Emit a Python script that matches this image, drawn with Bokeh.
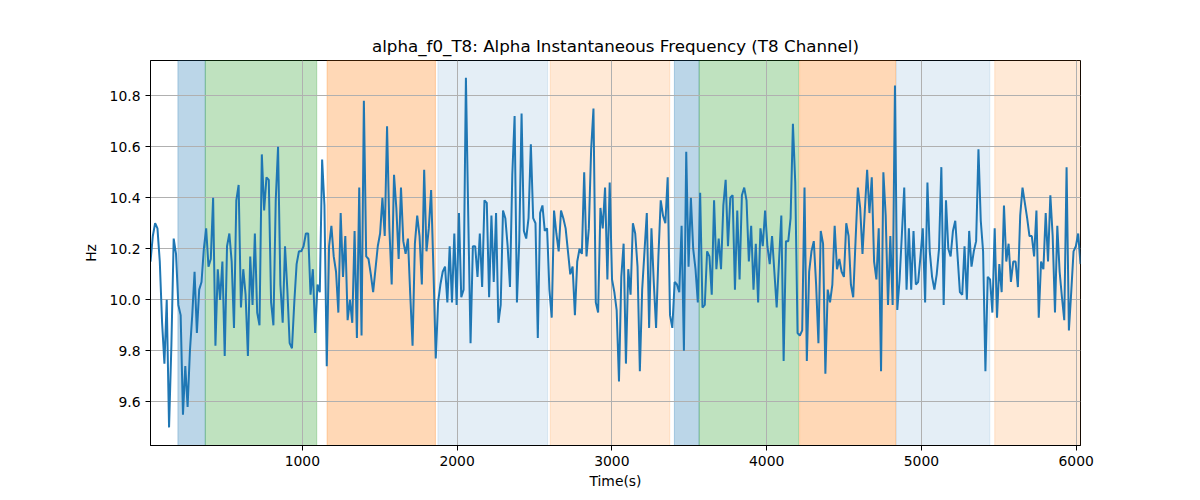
from bokeh.plotting import figure
from bokeh.models import BoxAnnotation, FixedTicker, PrintfTickFormatter, Range1d
from bokeh.embed import file_html
from bokeh.resources import INLINE

# alpha instantaneous frequency (Hz), one sample every ~15 s
alpha_f0 = [
    10.15, 10.25, 10.30, 10.28, 10.15, 9.91, 9.75, 10.00, 9.50, 9.82,
    10.24, 10.18, 9.98, 9.94, 9.55, 9.74, 9.58, 9.80, 9.94, 10.11,
    9.87, 10.04, 10.07, 10.20, 10.28, 10.13, 10.16, 10.40, 9.82, 10.12,
    10.00, 10.15, 9.78, 10.21, 10.26, 10.15, 9.89, 10.39, 10.45, 9.97,
    10.12, 10.02, 9.78, 10.17, 9.98, 10.26, 9.95, 9.90, 10.57, 10.35,
    10.48, 10.47, 9.99, 9.90, 10.39, 10.60, 10.06, 9.91, 10.21, 10.04,
    9.83, 9.81, 9.99, 10.14, 10.19, 10.19, 10.21, 10.26, 10.26,
    10.02, 10.12, 9.87, 10.06, 10.03, 10.55, 10.37, 9.74, 10.21, 10.29,
    10.17, 10.11, 9.95, 10.34, 10.09, 10.25, 9.92, 10.00, 9.91, 10.27,
    9.85, 10.44, 9.86, 10.78, 10.17, 10.16, 10.10, 10.03, 10.12, 10.21,
    10.26, 10.40, 10.25, 10.68, 10.28, 10.06, 10.49, 10.36, 10.16, 10.44,
    10.23, 10.18, 10.24, 10.02, 9.82, 10.22, 10.33, 10.25, 10.06, 10.51,
    10.19, 10.28, 10.43, 10.12, 9.77, 9.99, 10.06, 10.11, 10.13, 9.99,
    10.21, 9.99, 10.26, 9.98, 10.34, 10.01, 10.04, 10.87,
    10.33, 9.83, 10.21, 10.21, 10.09, 10.26, 10.05, 10.39, 10.38, 10.01,
    10.33, 10.07, 10.34, 9.91, 9.98, 10.35, 10.32, 10.21, 10.05, 10.49,
    10.72, 9.99, 10.23, 10.73, 10.27, 10.24, 10.32, 10.61, 10.32, 10.30,
    9.85, 10.34, 10.37, 10.27, 10.28, 10.04, 9.93, 10.35, 10.26, 10.19,
    10.35, 10.32, 10.28, 10.19, 10.10, 10.13, 9.94, 10.15, 10.20, 10.18,
    10.50, 10.17, 10.28, 10.59, 10.75, 9.99, 9.95, 10.36, 10.28, 10.44,
    10.08, 10.46, 10.08, 10.03, 9.96, 9.68, 10.09, 10.22, 9.75, 10.12,
    10.02, 10.30, 10.26, 10.13, 9.72, 10.04, 10.19, 10.34, 9.89, 10.28,
    10.07, 9.89, 10.17, 10.39, 10.33, 10.30, 10.48, 9.94, 9.89, 10.07,
    10.06, 10.03, 10.29, 9.80, 10.58, 10.13, 10.40, 10.20, 10.12, 9.99,
    10.42, 9.97, 9.98, 10.19, 10.17, 10.02, 10.39, 10.12, 10.24, 10.12,
    10.37, 10.47, 10.21, 10.40, 10.41, 10.04, 10.35, 10.08, 10.41, 10.44,
    10.39, 10.15, 10.29, 10.04, 10.22, 9.99, 10.28, 10.21, 10.35, 10.21,
    10.14, 10.25, 10.11, 9.97, 10.15, 10.33, 9.76, 10.23, 10.23,
    10.32, 10.69, 10.46, 9.87, 9.86, 9.88, 10.44, 9.76, 10.11, 10.19,
    10.23, 10.06, 9.83, 10.27, 10.22, 9.71, 10.04, 9.99, 10.06, 10.29,
    10.12, 10.16, 10.11, 10.09, 10.30, 10.25, 10.06, 10.01, 10.23, 10.44,
    10.36, 10.18, 10.35, 10.51, 10.34, 10.48, 10.15, 10.08, 10.28, 9.72,
    10.50, 10.33, 9.98, 10.25, 9.98, 10.84, 9.96, 10.08, 10.26, 10.44,
    10.04, 10.28, 10.04, 10.27, 10.06, 10.07, 10.17, 10.28, 9.99, 10.46,
    10.19, 10.09, 10.04, 10.10, 10.20, 10.52, 9.98, 10.39, 10.20,
    10.17, 10.27, 10.31, 10.17, 10.03, 10.02, 10.21, 10.00, 10.27, 10.13,
    10.19, 10.23, 10.59, 10.31, 10.19, 9.72, 10.09, 10.08, 9.95, 10.28,
    9.93, 10.14, 10.03, 10.37, 10.15, 10.22, 10.07, 10.15, 10.15, 10.05,
    10.33, 10.44, 10.38, 10.32, 10.25, 10.25, 10.17, 10.35, 9.93, 10.15,
    10.12, 10.34, 10.15, 10.41, 10.25, 9.95, 10.29, 10.11, 10.01, 9.92,
    10.52, 9.88, 10.03, 10.19, 10.21, 10.26, 10.14,
]
t_start = 19.0
t_step = 14.985
times = [t_start + t_step * i for i in range(len(alpha_f0))]

# shaded segments (seconds) and their kind
span_start = [196, 373, 1160, 1876, 2602, 3404, 3564, 4213, 4838, 5474]
span_end = [373, 1093, 1860, 2585, 3374, 3564, 4206, 4834, 5442, 6060]
span_kind = [0, 1, 2, 3, 4, 0, 1, 2, 3, 4]

kind_color = ["#1f77b4", "#2ca02c", "#ff7f0e", "#1f77b4", "#ff7f0e"]
kind_alpha = [0.3, 0.3, 0.3, 0.12, 0.17]

y_ticks = [9.6, 9.8, 10.0, 10.2, 10.4, 10.6, 10.8]
x_ticks = [1000, 2000, 3000, 4000, 5000, 6000]

FONT = "DejaVu Sans"

p = figure(width=1192, height=492, output_backend="svg", toolbar_location=None,
           title="alpha_f0_T8: Alpha Instantaneous Frequency (T8 Channel)",
           x_range=Range1d(times[0], times[-1]), y_range=Range1d(9.429, 10.938),
           x_axis_label="Time(s)", y_axis_label="Hz",
           min_border_left=150, min_border_right=112,
           min_border_top=60, min_border_bottom=47)

for s, e, k in zip(span_start, span_end, span_kind):
    p.add_layout(BoxAnnotation(left=s, right=e, fill_color=kind_color[k],
                               fill_alpha=kind_alpha[k], line_color=kind_color[k],
                               line_alpha=kind_alpha[k], line_width=1, level="image"))

p.line(times, alpha_f0, line_color="#1f77b4", line_width=2)

p.title.align = "center"
p.title.text_font = FONT
p.title.text_font_size = "16.7px"
p.title.text_font_style = "normal"
p.title.text_color = "black"

p.outline_line_color = "black"
p.outline_line_alpha = 1
p.outline_line_width = 1

for ax in (p.xaxis[0], p.yaxis[0]):
    ax.axis_line_color = "black"
    ax.major_tick_line_color = "black"
    ax.major_tick_out = 5
    ax.major_tick_in = 0
    ax.minor_tick_line_color = None
    ax.major_label_text_font = FONT
    ax.major_label_text_font_size = "13.9px"
    ax.major_label_text_color = "black"
    ax.axis_label_text_font = FONT
    ax.axis_label_text_font_size = "13.9px"
    ax.axis_label_text_font_style = "normal"
    ax.axis_label_text_color = "black"

p.xaxis.ticker = FixedTicker(ticks=x_ticks)
p.yaxis.ticker = FixedTicker(ticks=y_ticks)
p.yaxis.formatter = PrintfTickFormatter(format="%.1f")
p.xaxis.axis_label_standoff = 4
p.yaxis.axis_label_standoff = 8

p.grid.grid_line_color = "#b0b0b0"
p.grid.grid_line_width = 1
p.grid.grid_line_alpha = 1

open("out.html", "w").write(file_html(p, INLINE))
